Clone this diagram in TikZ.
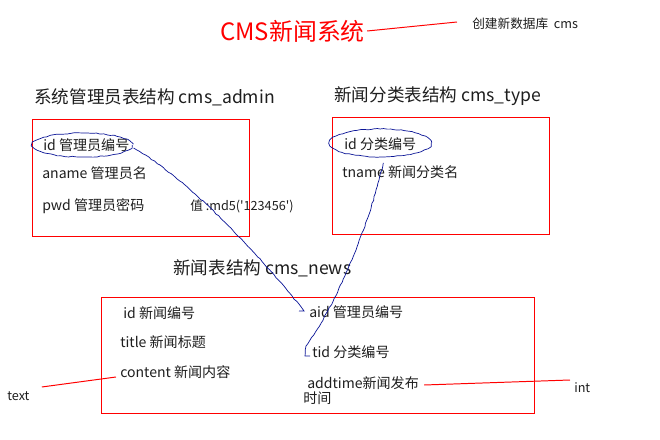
\documentclass[tikz,border=0pt]{standalone}
\usepackage{fontspec}
\setmainfont{Noto Sans CJK SC}
\usepackage{xcolor}
\usetikzlibrary{calc,decorations.pathmorphing}

\definecolor{inkblue}{RGB}{10,20,150}
\definecolor{txtgray}{RGB}{30,30,30}

\begin{document}
\begin{tikzpicture}[x=0.025cm,y=-0.025cm,
  tbl/.style={draw=red, line width=0.7pt},
  fld/.style={anchor=west, inner sep=0pt, text=txtgray, font=\fontsize{10}{11}\selectfont},
  note/.style={anchor=west, inner sep=0pt, text=txtgray, font=\fontsize{9}{10}\selectfont},
  head/.style={anchor=west, inner sep=0pt, text=txtgray, font=\fontsize{12.5}{14}\selectfont},
  redline/.style={draw=red, line width=0.7pt},
  hand/.style={draw=inkblue, line width=0.5pt,
    decorate, decoration={random steps, segment length=2.5pt, amplitude=0.35pt}}]

\useasboundingbox (0,0) rectangle (660,440);

% Title
\node[anchor=west, inner sep=0pt, text=red, font=\fontsize{17}{19}\selectfont]
  (title) at (220,31) {CMS新闻系统};
\node[note] (dbnote) at (472,24) {创建新数据库\ \ cms};
\draw[redline] ($(title.east)+(2,0)$) -- ($(dbnote.west)+(-15,-2)$);

% Table cms_admin
\node[head] (adminhead) at (34,97) {系统管理员表结构 cms\_admin};
\draw[tbl] (32,119) rectangle (249,236);
\node[fld] (adminid) at (43,145) {id 管理员编号};
\node[fld] (aname) at (42,173) {aname 管理员名};
\node[fld] (pwd) at (42,206) {pwd 管理员密码};
\node[note] (md5) at (190,206) {值 :md5(\textquotesingle123456\textquotesingle)};

% Table cms_type
\node[head] (typehead) at (334,96) {新闻分类表结构 cms\_type};
\draw[tbl] (332,117) rectangle (549,234);
\node[fld] (typeid) at (344,144) {id 分类编号};
\node[fld] (tname) at (342,172) {tname 新闻分类名};

% Table cms_news
\node[head] (newshead) at (173,268) {新闻表结构 cms\_news};
\draw[tbl] (101,297) rectangle (534,413);
\node[fld] (newsid) at (123,313) {id 新闻编号};
\node[fld] (ntitle) at (120,342) {title 新闻标题};
\node[fld] (content) at (120,372) {content 新闻内容};
\node[fld] (aid) at (309,312) {aid 管理员编号};
\node[fld] (tid) at (312,352) {tid 分类编号};
\node[fld] (addtime) at (307,383) {addtime新闻发布};
\node[fld] (addtimeb) at (303,398) {时间};

% Type notes
\node[note] (textlbl) at (7,396) {text};
\node[note] (intlbl) at (574,388) {int};
\draw[redline] ($(textlbl.east)+(12,-9)$) -- ($(content.west)+(-4,5)$);
\draw[redline] ($(addtime.east)+(5,2)$) -- ($(intlbl.west)+(-4,-8)$);

% Hand-drawn marks
\draw[hand] ($(adminid.center)+(-4,0)$) ellipse (50 and 12);
\draw[hand] ($(typeid.center)+(0,-1)$) ellipse (51 and 14);

% Foreign keys
\draw[hand] ($(adminid.east)+(4,3)$) .. controls (190,180) and (262,258) .. ($(aid.west)+(-5,-1)$)
  -- ++(-5,0);
\draw[hand] ($(typeid.south)+(3,12)$) .. controls (372,215) and (340,300) .. ($(tid.west)+(-6,-6)$)
  -- ++(-1,10) -- ++(5,0);

\end{tikzpicture}
\end{document}
